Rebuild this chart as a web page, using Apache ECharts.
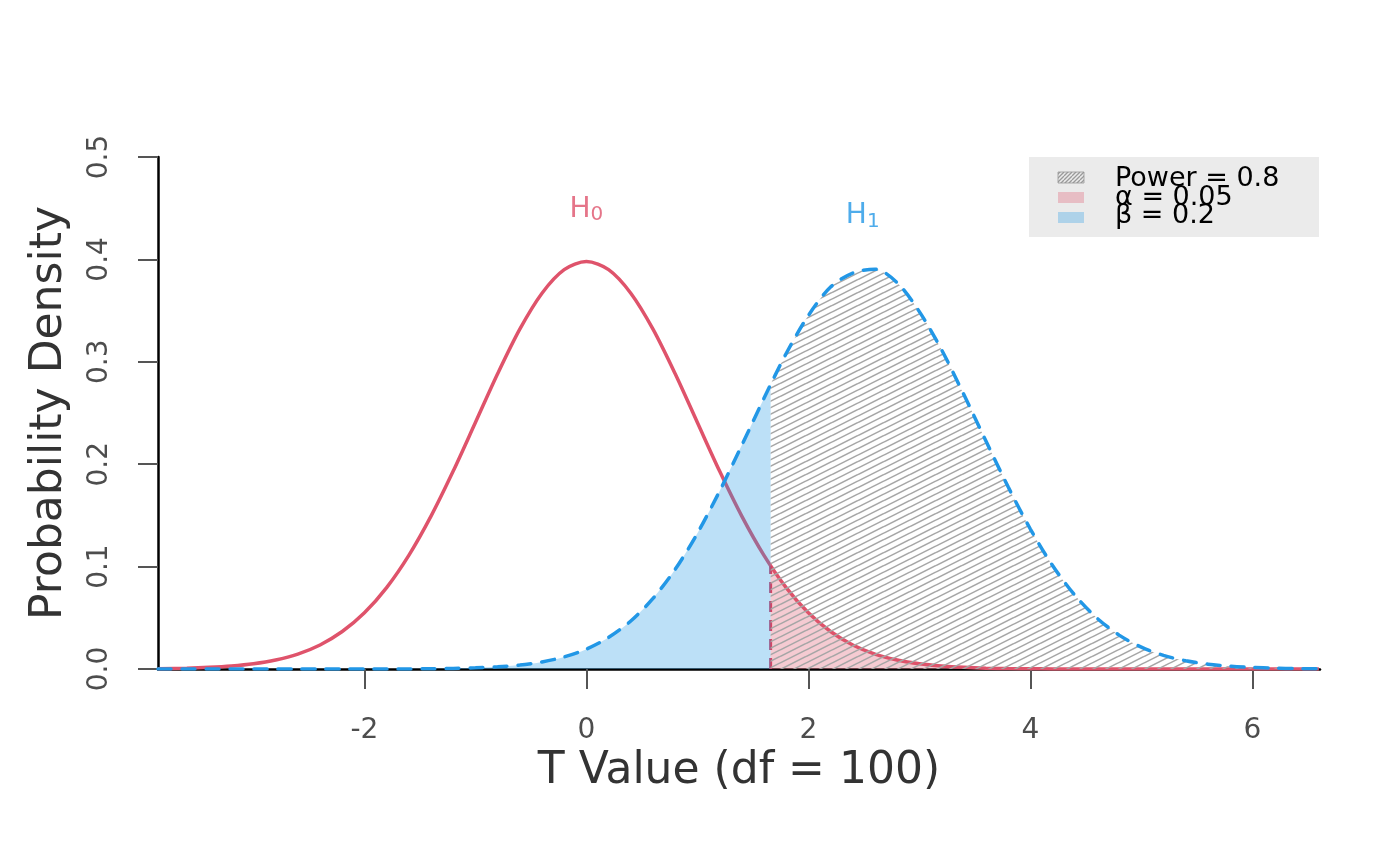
<!DOCTYPE html>
<html>
<head>
<meta charset="utf-8">
<script src="https://cdn.jsdelivr.net/npm/echarts@6/dist/echarts.min.js"></script>
<style>
html, body { margin: 0; padding: 0; background: #fff; }
#chart { width: 1400px; height: 866px; }
</style>
</head>
<body>
<div id="chart"></div>
<script>
// t values along the x axis
var tValues = [-3.86, -3.6, -3.4, -3.2, -3.0, -2.8, -2.6, -2.4, -2.2, -2.0,
    -1.8, -1.6, -1.4, -1.2, -1.0, -0.8, -0.6, -0.4, -0.2, 0,
    0.2, 0.4, 0.6, 0.8, 1.0, 1.2, 1.4, 1.6, 1.8, 2.0,
    2.2, 2.4, 2.6, 2.8, 3.0, 3.2, 3.4, 3.6, 3.8, 4.0,
    4.2, 4.4, 4.6, 4.8, 5.0, 5.2, 5.4, 5.6, 5.8, 6.0,
    6.2, 6.4, 6.6];
// null hypothesis density (red solid)
var h0Density = [0.0003, 0.0008, 0.0016, 0.0029, 0.0051, 0.0088, 0.0146, 0.0235, 0.0366, 0.0549,
    0.0795, 0.1110, 0.1493, 0.1933, 0.2407, 0.2883, 0.3319, 0.3670, 0.3900, 0.3979,
    0.3900, 0.3670, 0.3319, 0.2883, 0.2407, 0.1933, 0.1493, 0.1110, 0.0795, 0.0549,
    0.0366, 0.0235, 0.0146, 0.0088, 0.0051, 0.0029, 0.0016, 0.0008, 0.0004, 0.0002,
    0.0001, 0.0001, 0, 0, 0, 0, 0, 0, 0, 0,
    0, 0, 0];
// alternative hypothesis density (blue dashed)
var h1Density = [0, 0, 0, 0, 0, 0, 0, 0, 0, 0,
    0, 0.0001, 0.0002, 0.0005, 0.0011, 0.0021, 0.0038, 0.0069, 0.0118, 0.0194,
    0.0308, 0.0469, 0.0689, 0.0973, 0.1325, 0.1736, 0.2184, 0.2643, 0.3081, 0.3452,
    0.3730, 0.3866, 0.3905, 0.3772, 0.3490, 0.3118, 0.2682, 0.2226, 0.1779, 0.1367,
    0.1011, 0.0722, 0.0497, 0.0331, 0.0213, 0.0133, 0.0080, 0.0047, 0.0027, 0.0015,
    0.0008, 0.0004, 0.0002];
// critical value and densities there
var critT = 1.66;
var h0AtCrit = 0.1004;
var h1AtCrit = 0.278;
var xTicks = [-2, 0, 2, 4, 6];
// curve labels: [x, y]
var h0LabelPos = [0, 0.448];
var h1LabelPos = [2.49, 0.442];
var legendLabels = ['Power = 0.8', 'α = 0.05', 'β = 0.2'];

var FONT = 'DejaVu Sans';
var RED = '#DF536B';
var BLUE = '#2297E6';
var RED_FILL = 'rgba(223,83,107,0.3)';
var BLUE_FILL = 'rgba(34,151,230,0.3)';
var SMOOTH = 0.3;

function makeHatch(w, h, step, color, lw) {
    var c = document.createElement('canvas');
    c.width = w;
    c.height = h;
    var ctx = c.getContext('2d');
    ctx.strokeStyle = color;
    ctx.lineWidth = lw;
    for (var k = -2 * h; k <= 3 * h; k += step) {
        ctx.beginPath();
        ctx.moveTo(0, k + h);
        ctx.lineTo(w, k);
        ctx.stroke();
    }
    return c;
}

// lines rise left to right
var hatchCanvas = makeHatch(26, 13, 6.5, '#A6A6A6', 1.5);
var hatchPattern = { image: hatchCanvas, repeat: 'repeat' };
var keyCanvas = makeHatch(8, 8, 4, '#9A9A9A', 1.3);
var keyPattern = { image: keyCanvas, repeat: 'repeat' };

var h0Points = [], h1Points = [], betaPoints = [], powerPoints = [], alphaPoints = [];
for (var i = 0; i < tValues.length; i++) {
    h0Points.push([tValues[i], h0Density[i]]);
    h1Points.push([tValues[i], h1Density[i]]);
    if (tValues[i] < critT) {
        betaPoints.push([tValues[i], h1Density[i]]);
    }
}
betaPoints.push([critT, h1AtCrit]);
powerPoints.push([critT, h1AtCrit]);
alphaPoints.push([critT, h0AtCrit]);
for (var j = 0; j < tValues.length; j++) {
    if (tValues[j] > critT) {
        powerPoints.push([tValues[j], h1Density[j]]);
        alphaPoints.push([tValues[j], h0Density[j]]);
    }
}

var myChart = echarts.init(document.getElementById('chart'));

var legendGraphics = [{
    type: 'rect',
    shape: { x: 1029, y: 157, width: 290, height: 80 },
    style: { fill: '#EBEBEB' }
}];
var keyFills = [keyPattern, RED_FILL, BLUE_FILL];
var keyTop = [172, 192, 212];
var textMid = [179, 198, 216];
for (var k = 0; k < legendLabels.length; k++) {
    legendGraphics.push({
        type: 'rect',
        shape: { x: 1058, y: keyTop[k], width: 26, height: 11 },
        style: {
            fill: keyFills[k],
            stroke: k === 0 ? 'rgba(150,150,150,0.8)' : null,
            lineWidth: 1
        }
    });
    legendGraphics.push({
        type: 'text',
        x: 1115,
        y: textMid[k],
        style: {
            text: legendLabels[k],
            font: '27px "' + FONT + '"',
            fill: '#000',
            textVerticalAlign: 'middle'
        }
    });
}

var option = {
    animation: false,
    backgroundColor: '#fff',
    textStyle: { fontFamily: FONT },
    grid: { left: 158, right: 80, top: 157, bottom: 197, containLabel: false },
    xAxis: {
        type: 'value',
        min: -3.86,
        max: 6.61,
        name: 'T Value (df = 100)',
        nameLocation: 'middle',
        nameGap: 80,
        nameTextStyle: { fontSize: 44, color: '#333', fontFamily: FONT },
        axisLine: { show: true, onZero: false, lineStyle: { color: '#000', width: 2.5 } },
        axisTick: { show: true, inside: false, length: 20, customValues: xTicks, lineStyle: { color: '#555', width: 2 } },
        axisLabel: { customValues: xTicks, fontSize: 28, color: '#4D4D4D', margin: 48, fontFamily: FONT },
        splitLine: { show: false }
    },
    yAxis: {
        type: 'value',
        min: 0,
        max: 0.5,
        interval: 0.1,
        name: 'Probability Density',
        nameLocation: 'middle',
        nameGap: 86,
        nameTextStyle: { fontSize: 44, color: '#333', fontFamily: FONT },
        axisLine: { show: true, onZero: false, lineStyle: { color: '#000', width: 2.5 } },
        axisTick: { show: true, inside: false, length: 20, lineStyle: { color: '#555', width: 2 } },
        axisLabel: {
            rotate: 90,
            fontSize: 28,
            color: '#4D4D4D',
            margin: 44,
            fontFamily: FONT,
            formatter: function (v) { return v.toFixed(1); }
        },
        splitLine: { show: false }
    },
    series: [{
            name: 'H0',
            type: 'line',
            data: h0Points,
            smooth: SMOOTH,
            showSymbol: false,
            lineStyle: { color: RED, width: 3.5 },
            z: 2
        },
        {
            name: 'crit',
            type: 'line',
            data: [[critT, 0], [critT, h0AtCrit]],
            showSymbol: false,
            lineStyle: { color: '#D04062', width: 3, type: [11, 8] },
            z: 2
        },
        {
            name: 'beta',
            type: 'line',
            data: betaPoints,
            smooth: SMOOTH,
            showSymbol: false,
            lineStyle: { width: 0, opacity: 0 },
            areaStyle: { color: BLUE_FILL, opacity: 1 },
            z: 3
        },
        {
            name: 'alpha',
            type: 'line',
            data: alphaPoints,
            smooth: SMOOTH,
            showSymbol: false,
            lineStyle: { width: 0, opacity: 0 },
            areaStyle: { color: RED_FILL, opacity: 1 },
            z: 3
        },
        {
            name: 'power',
            type: 'line',
            data: powerPoints,
            smooth: SMOOTH,
            showSymbol: false,
            lineStyle: { width: 0, opacity: 0 },
            areaStyle: { color: hatchPattern, opacity: 1 },
            z: 3
        },
        {
            name: 'H1',
            type: 'line',
            data: h1Points,
            smooth: SMOOTH,
            showSymbol: false,
            lineStyle: { color: BLUE, width: 3.5, type: [13, 11], cap: 'round' },
            z: 4
        },
        {
            name: 'labels',
            type: 'scatter',
            symbolSize: 0,
            z: 5,
            data: [{
                    value: h0LabelPos,
                    label: { show: true, position: 'inside', formatter: '{h|H}{s|0}', rich: {
                        h: { fontSize: 28, color: RED, lineHeight: 30, verticalAlign: 'top', fontFamily: FONT },
                        s: { fontSize: 20, color: RED, lineHeight: 20, verticalAlign: 'bottom', fontFamily: FONT }
                    } }
                },
                {
                    value: h1LabelPos,
                    label: { show: true, position: 'inside', formatter: '{h|H}{s|1}', rich: {
                        h: { fontSize: 28, color: BLUE, lineHeight: 30, verticalAlign: 'top', fontFamily: FONT },
                        s: { fontSize: 20, color: BLUE, lineHeight: 20, verticalAlign: 'bottom', fontFamily: FONT }
                    } }
                }
            ]
        }
    ],
    graphic: legendGraphics
};
myChart.setOption(option);
</script>
</body>
</html>
